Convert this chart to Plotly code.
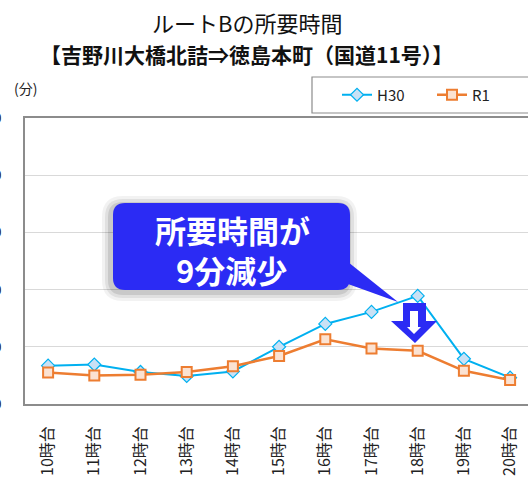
import plotly.graph_objects as go

# ---- data ----
hours = ["10時台", "11時台", "12時台", "13時台", "14時台", "15時台",
         "16時台", "17時台", "18時台", "19時台", "20時台"]
h30 = [6.7, 6.9, 5.6, 4.9, 5.7, 10.0, 14.0, 16.1, 18.9, 7.9, 4.6]
r1 = [5.5, 5.0, 5.1, 5.6, 6.6, 8.4, 11.3, 9.7, 9.3, 5.8, 4.2]
y_ticks = [0, 10, 20, 30, 40, 50]

W, H = 528, 490
L, T, B = 25, 118, 404
PW = W - L
PH = B - T
FONT = "Noto Sans CJK JP"

def X(px):
    return (px - L) / PW

def Y(py):
    return (B - py) / PH

fig = go.Figure()
fig.add_trace(go.Scatter(
    x=list(range(len(hours))), y=h30, name="H30", mode="lines+markers",
    line=dict(color="#00B0F0", width=2),
    marker=dict(symbol="diamond", size=10, color="#C9E1F5",
                line=dict(color="#00B0F0", width=1.2)),
))
fig.add_trace(go.Scatter(
    x=list(range(len(hours))), y=r1, name="R1", mode="lines+markers",
    line=dict(color="#ED7D31", width=2.5),
    marker=dict(symbol="square", size=10, color="#FBE2D2",
                line=dict(color="#ED7D31", width=2)),
))

shapes = []
# legend box
shapes.append(dict(type="rect", xref="paper", yref="paper",
                   x0=X(312), x1=X(545), y0=Y(113), y1=Y(77),
                   line=dict(color="#8c8c8c", width=1.2), fillcolor="white",
                   layer="below"))

def rrect(x0, y0, x1, y1, r):
    return (f"M {X(x0 + r)},{Y(y0)} L {X(x1 - r)},{Y(y0)} Q {X(x1)},{Y(y0)} {X(x1)},{Y(y0 + r)} "
            f"L {X(x1)},{Y(y1 - r)} Q {X(x1)},{Y(y1)} {X(x1 - r)},{Y(y1)} "
            f"L {X(x0 + r)},{Y(y1)} Q {X(x0)},{Y(y1)} {X(x0)},{Y(y1 - r)} "
            f"L {X(x0)},{Y(y0 + r)} Q {X(x0)},{Y(y0)} {X(x0 + r)},{Y(y0)} Z")

def poly(pts):
    return "M " + " L ".join(f"{X(a)},{Y(b)}" for a, b in pts) + " Z"

BLUE = "#2B2BF4"
# shadow
for d, op in [(9, 0.05), (6, 0.07), (3, 0.10)]:
    shapes.append(dict(type="path", xref="paper", yref="paper",
                       path=rrect(113 - d - 2, 203 - d + 2, 350 + d - 2, 290 + d + 2, 12 + d),
                       fillcolor=f"rgba(0,0,0,{op})", line=dict(width=0), layer="above"))
# callout tail
shapes.append(dict(type="path", xref="paper", yref="paper",
                   path=poly([(348, 262), (348, 284), (398, 302)]),
                   fillcolor=BLUE, line=dict(width=0), layer="above"))
# callout box
shapes.append(dict(type="path", xref="paper", yref="paper",
                   path=rrect(113, 203, 350, 290, 12),
                   fillcolor=BLUE, line=dict(width=0), layer="above"))
# down arrow
shapes.append(dict(type="path", xref="paper", yref="paper",
                   path=poly([(403, 303), (426, 303), (426, 321), (437, 321),
                              (415, 343), (391, 321), (403, 321)]),
                   fillcolor=BLUE, line=dict(width=0), layer="above"))
shapes.append(dict(type="path", xref="paper", yref="paper",
                   path=poly([(410, 311), (418, 311), (418, 327), (421, 327),
                              (414, 334), (407, 327), (410, 327)]),
                   fillcolor="white", line=dict(width=0), layer="above"))

annotations = [
    dict(text="ルートBの所要時間", x=X(247), y=Y(22), xref="paper", yref="paper",
         showarrow=False, font=dict(family=FONT, size=22, color="#111"),
         xanchor="center", yanchor="middle"),
    dict(text="<b>【吉野川大橋北詰⇒徳島本町（国道11号）】</b>", x=X(246), y=Y(54),
         xref="paper", yref="paper", showarrow=False,
         font=dict(family=FONT, size=21, color="#111"),
         xanchor="center", yanchor="middle"),
    dict(text="(分)", x=X(12), y=Y(88), xref="paper", yref="paper", showarrow=False,
         font=dict(family=FONT, size=14, color="#222"), xanchor="left", yanchor="middle"),
    dict(text="<b>所要時間が</b>", x=X(232), y=Y(229), xref="paper", yref="paper",
         showarrow=False, font=dict(family=FONT, size=31, color="white"),
         xanchor="center", yanchor="middle"),
    dict(text="<b>9分減少</b>", x=X(231), y=Y(269), xref="paper", yref="paper",
         showarrow=False, font=dict(family=FONT, size=31, color="white"),
         xanchor="center", yanchor="middle"),
]

fig.update_layout(
    width=W, height=H,
    margin=dict(l=L, r=0, t=T, b=H - B, autoexpand=False),
    paper_bgcolor="white", plot_bgcolor="white",
    font=dict(family=FONT, color="#222"),
    showlegend=True,
    legend=dict(orientation="h", x=X(337), y=Y(95), xanchor="left", yanchor="middle",
                font=dict(family=FONT, size=15, color="#222"),
                bgcolor="rgba(0,0,0,0)", borderwidth=0,
                entrywidth=50, entrywidthmode="pixels", itemwidth=30),
    shapes=shapes,
    annotations=annotations,
    xaxis=dict(
        range=[-0.5, -0.5 + PW / 46.2],
        tickmode="array", tickvals=list(range(len(hours))), ticktext=hours,
        tickangle=-90, tickfont=dict(family=FONT, size=16, color="#222"),
        showgrid=False, zeroline=False, ticks="",
        showline=True, linecolor="#8c8c8c", linewidth=1.5, mirror=True,
        ticklabelstandoff=14,
    ),
    yaxis=dict(
        range=[0, 50], tickmode="array", tickvals=y_ticks,
        tickfont=dict(family=FONT, size=14, color="#222"),
        showgrid=True, gridcolor="#d9d9d9", gridwidth=1, zeroline=False, ticks="",
        showline=True, linecolor="#8c8c8c", linewidth=1.5, mirror=False,
        ticklabelstandoff=19,
    ),
)

fig.write_html("out.html", config={"displayModeBar": False},
               post_script="document.body.style.margin='0px';")
